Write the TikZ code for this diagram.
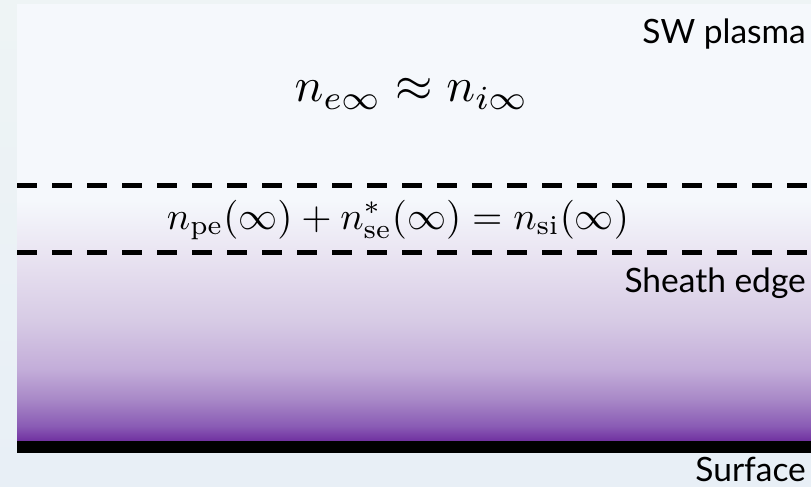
\documentclass[tikz,border=0pt]{standalone}
\usepackage{fontspec}
\newfontfamily\gillfont{Lato}
\definecolor{slidetop}{HTML}{EEF4F5}
\definecolor{slidebot}{HTML}{E8EFF6}
\definecolor{panelbg}{HTML}{F5F8FC}
\definecolor{sheathtop}{HTML}{EAE5F2}
\definecolor{sheathA}{HTML}{D7CBE5}
\definecolor{sheathB}{HTML}{C3ADD9}
\definecolor{sheathC}{HTML}{A888C7}
\definecolor{sheathD}{HTML}{8A5CB5}
\definecolor{sheathbot}{HTML}{7030A0}
\pgfdeclareverticalshading{sheathfade}{100bp}{color(0bp)=(sheathbot); color(25bp)=(sheathbot);
  color(29bp)=(sheathD); color(36bp)=(sheathC); color(44bp)=(sheathB); color(57bp)=(sheathA);
  color(75bp)=(sheathtop); color(100bp)=(sheathtop)}
\begin{document}
\begin{tikzpicture}[x=1pt,y=-1pt,
  every node/.style={inner sep=0pt},
  tag/.style={font=\gillfont\fontsize{33.5}{38}\selectfont, anchor=base east},
  boundary/.style={line width=5pt, dash pattern=on 20pt off 15pt}]
  \useasboundingbox (0,0) rectangle (811,487);
  % slide and panel
  \shade[top color=slidetop,bottom color=slidebot] (0,0) rectangle (811,487);
  \fill[panelbg] (17,4) rectangle (811,200);
  \shade[top color=panelbg,bottom color=sheathtop] (17,200) rectangle (811,252);
  \shade[shading=sheathfade] (17,252) rectangle (811,441);
  \fill[black] (17,441) rectangle (811,453);
  % boundaries
  \draw[boundary] (17,185) -- (811,185);
  \draw[boundary] (17,252) -- (811,252);
  % labels
  \node[tag] (sw) at (806,44) {SW plasma};
  \node[tag] (edge) at (806,292) {Sheath edge};
  \node[tag] (surf) at (806,481) {Surface};
  \node[scale=4.8] (far) at (412,94) {$n_{e\infty}\approx n_{i\infty}$};
  \node[scale=3.9] (bal) at (398,220) {$n_{\mathrm{pe}}(\infty)+n^{*}_{\mathrm{se}}(\infty)=n_{\mathrm{si}}(\infty)$};
\end{tikzpicture}
\end{document}
